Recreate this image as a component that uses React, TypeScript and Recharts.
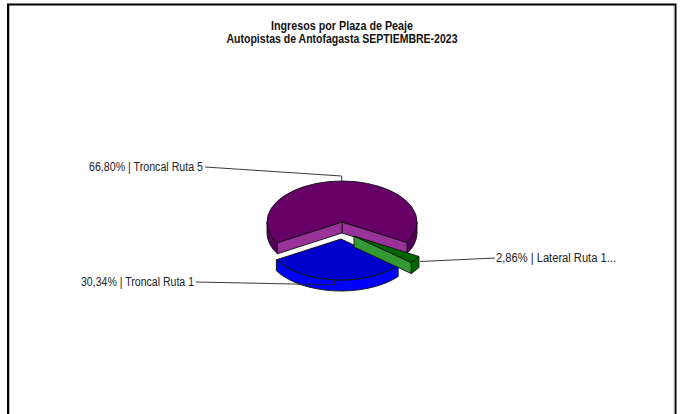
import React from 'react';
import { PieChart, Pie } from 'recharts';

// ---- data ----
const plazas = ['Troncal Ruta 5', 'Troncal Ruta 1', 'Lateral Ruta 1...'];
const shares = [66.8, 30.34, 2.86];
const titleLines = ['Ingresos por Plaza de Peaje', 'Autopistas de Antofagasta SEPTIEMBRE-2023'];

// ---- styling / layout ----
const W = 680;
const H = 414;
const CX = 342;
const CY = 222;
const R = 75;
const SQUASH = 41 / 75;
const DEPTH = 11;
const FONT = '"Liberation Sans", Arial, sans-serif';

const sliceStyles = [
  { top: '#660066', side: '#52005a', cut: '#993399', dx: 0, dy: 0 },
  { top: '#0000cc', side: '#0000ff', cut: '#0000ff', dx: -1, dy: 17 },
  { top: '#006600', side: '#006600', cut: '#339933', dx: 12, dy: 14 },
];
// leader line: how far it leaves the rim, the short knee, and where the label sits
const leaderStyles = [
  { inset: 0, knee: -5, elbowX: 205, elbowY: 167, textW: 114, anchor: 'end' },
  { inset: 0, knee: 5, elbowX: 196, elbowY: 282, textW: 113, anchor: 'end' },
  { inset: -6, knee: 0, elbowX: 495, elbowY: 258, textW: 120, anchor: 'start' },
];

const rad = (a: number) => (a * Math.PI) / 180;
const pt = (x: number, y: number, a: number, r = R) => [
  x + r * Math.cos(rad(a)),
  y - r * SQUASH * Math.sin(rad(a)),
];
const f = (n: number) => n.toFixed(2);

function sidePath(x: number, y: number, a0: number, a1: number) {
  const [x0, y0] = pt(x, y, a0);
  const [x1, y1] = pt(x, y, a1);
  const ry = R * SQUASH;
  const large = a1 - a0 > 180 ? 1 : 0;
  return `M${f(x0)} ${f(y0)} A${R} ${ry} 0 ${large} 0 ${f(x1)} ${f(y1)} L${f(x1)} ${f(y1 + DEPTH)} A${R} ${ry} 0 ${large} 1 ${f(x0)} ${f(y0 + DEPTH)} Z`;
}

function Slice3D(props: any) {
  const { cx, cy, outerRadius, startAngle, endAngle, index } = props;
  const i = index ?? 0;
  const s = sliceStyles[i];
  const x = cx + s.dx;
  const y = cy + s.dy;
  const lo = Math.min(startAngle, endAngle);
  const hi = Math.max(startAngle, endAngle);
  const [sx, sy] = pt(x, y, lo, outerRadius);
  const [ex, ey] = pt(x, y, hi, outerRadius);
  const ry = outerRadius * SQUASH;
  const large = hi - lo > 180 ? 1 : 0;
  const top = `M${f(x)} ${f(y)} L${f(sx)} ${f(sy)} A${outerRadius} ${ry} 0 ${large} 0 ${f(ex)} ${f(ey)} Z`;

  // rim parts facing the viewer: screen-lower half of the ellipse (180..360 degrees)
  const rims: [number, number][] = [];
  for (const [a, b] of [
    [-180, 0],
    [180, 360],
  ]) {
    const p = Math.max(lo, a);
    const q = Math.min(hi, b);
    if (q > p) rims.push([p, q]);
  }
  const cutFace = (a: number) => {
    const [px, py] = pt(x, y, a, outerRadius);
    return `M${f(x)} ${f(y)} L${f(px)} ${f(py)} L${f(px)} ${f(py + DEPTH)} L${f(x)} ${f(y + DEPTH)} Z`;
  };
  const stroke = { stroke: '#111', strokeWidth: 0.9, strokeLinejoin: 'round' as const };
  return (
    <g>
      {rims.map(([p, q], k) => (
        <path key={k} d={sidePath(x, y, p, q)} fill={s.side} {...stroke} />
      ))}
      {i === 0 && <path d={cutFace(lo)} fill={s.cut} {...stroke} />}
      {i === 0 && <path d={cutFace(hi)} fill={s.cut} {...stroke} />}
      {i === 2 && <path d={cutFace(lo)} fill={s.cut} {...stroke} />}
      <path d={top} fill={s.top} {...stroke} />
    </g>
  );
}

function Leader(props: any) {
  const { cx, cy, midAngle, outerRadius, index, payload } = props;
  const l = leaderStyles[index];
  const s = sliceStyles[index];
  const [mx, my] = pt(cx + s.dx, cy + s.dy, midAngle, outerRadius - l.inset);
  const label = `${Number(payload.value ?? props.value).toFixed(2).replace('.', ',')}% | ${payload.name ?? props.name}`;
  const textX = l.anchor === 'end' ? l.elbowX - 2 : l.elbowX + 1;
  return (
    <g>
      <polyline
        points={`${f(mx)},${f(my)} ${f(mx)},${f(my + l.knee)} ${l.elbowX},${l.elbowY}`}
        fill="none"
        stroke="#222"
        strokeWidth={0.9}
      />
      <text
        x={textX}
        y={l.elbowY + 4}
        textAnchor={l.anchor as any}
        textLength={l.textW}
        lengthAdjust="spacingAndGlyphs"
        fontFamily={FONT}
        fontSize={12}
        fill="#222"
      >
        {label}
      </text>
    </g>
  );
}

const rows = plazas.map((name, i) => ({ name, value: shares[i] }));

export default function App() {
  return (
    <div style={{ position: 'absolute', left: 0, top: 0, width: W, height: H, background: '#fff' }}>
      <PieChart width={W} height={H} margin={{ top: 0, right: 0, bottom: 0, left: 0 }}>
        <path d={`M8 ${H} V4.5 H675.5 V${H}`} fill="none" stroke="#000" strokeWidth={2} />
        <path d={`M9.5 ${H} V6 M674 6 V${H}`} fill="none" stroke="#bbb" strokeWidth={1} />
        <text x={342} y={30} textAnchor="middle" fontFamily={FONT} fontSize={12} fontWeight="bold" fill="#111" textLength={142} lengthAdjust="spacingAndGlyphs">
          {titleLines[0]}
        </text>
        <text x={342} y={43} textAnchor="middle" fontFamily={FONT} fontSize={12} fontWeight="bold" fill="#111" textLength={231} lengthAdjust="spacingAndGlyphs">
          {titleLines[1]}
        </text>
        <Pie
          data={rows}
          dataKey="value"
          nameKey="name"
          cx={CX}
          cy={CY}
          innerRadius={0}
          outerRadius={R}
          startAngle={-30}
          endAngle={330}
          isAnimationActive={false}
          shape={Slice3D}
          label={Leader}
          labelLine={false}
          stroke="none"
        />
      </PieChart>
    </div>
  );
}
